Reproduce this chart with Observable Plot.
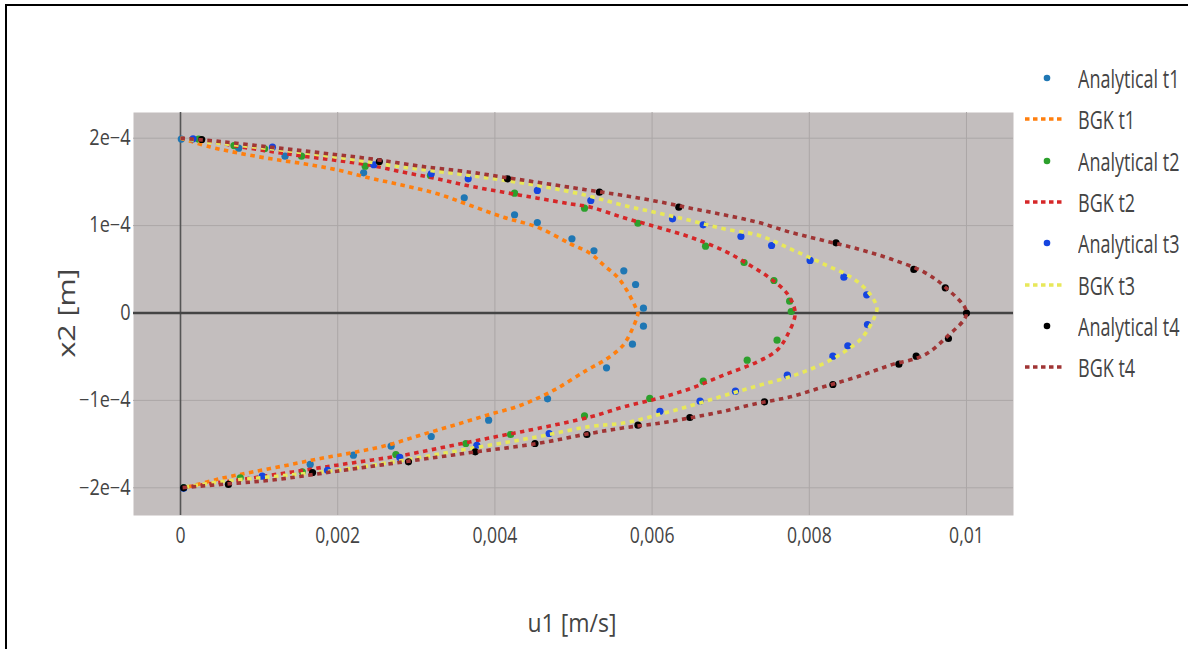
<!DOCTYPE html>
<html><head><meta charset="utf-8">
<script src="https://cdn.jsdelivr.net/npm/d3@7"></script>
<script src="https://cdn.jsdelivr.net/npm/@observablehq/plot@0.6"></script>
<style>
html,body{margin:0;padding:0;background:#fff;}
body{width:1188px;height:649px;overflow:hidden;position:relative;font-family:"Open Sans",sans-serif;color:#444;}
#chart{position:absolute;left:0;top:0;}
#border{position:absolute;left:5px;top:4px;width:1200px;height:700px;border-left:2.5px solid #000;border-top:2.5px solid #000;pointer-events:none;}
.title{position:absolute;white-space:nowrap;color:#444;}
#legend{position:absolute;left:0;top:0;}
.lrow{position:absolute;left:1020px;height:30px;display:flex;align-items:center;white-space:nowrap;}
.lrow span{display:inline-block;font-size:25px;color:#444;transform:scaleX(0.72);transform-origin:0 50%;margin-left:12px;}
</style></head><body>
<div id="chart"></div>
<div class="title" id="xtitle">u1 [m/s]</div>
<div class="title" id="ytitle">x2 [m]</div>
<div id="legend"></div>
<div id="border"></div>
<script>
// ---- data (u1 in m/s, x2 in m) ----
const seriesNames = ["Analytical t1","BGK t1","Analytical t2","BGK t2","Analytical t3","BGK t3","Analytical t4","BGK t4"];

const aT1_u  = [0.00001,0.00074,0.00133,0.00233,0.00361,0.00425,0.00454,0.00498,0.00526,0.00564,0.00579,0.00589,0.00589,0.00575,0.00542,0.00467,0.00392,0.00319,0.00268,0.00220,0.00165,0.00004];
const aT1_x2 = [1.99e-4,1.886e-4,1.794e-4,1.604e-4,1.318e-4,1.124e-4,1.035e-4,0.849e-4,0.712e-4,0.483e-4,0.326e-4,0.055e-4,-0.151e-4,-0.357e-4,-0.627e-4,-0.982e-4,-1.226e-4,-1.413e-4,-1.524e-4,-1.627e-4,-1.733e-4,-2.0e-4];

const bT1_u  = [0,0.00038,0.00072,0.00115,0.00157,0.00199,0.00242,0.00284,0.00327,0.00369,0.00411,0.00454,0.00496,0.00522,0.00539,0.00556,0.00568,0.00579,0.00582,0.00580,0.00574,0.00563,0.00543,0.00517,0.00475,0.00433,0.00390,0.00348,0.00305,0.00263,0.00220,0.00178,0.00136,0.00093,0.00051,0.00009,0];
const bT1_x2 = [2.0e-4,1.90e-4,1.833e-4,1.764e-4,1.707e-4,1.638e-4,1.542e-4,1.459e-4,1.364e-4,1.230e-4,1.096e-4,0.982e-4,0.792e-4,0.677e-4,0.543e-4,0.410e-4,0.257e-4,0.066e-4,0,-0.07e-4,-0.20e-4,-0.37e-4,-0.521e-4,-0.654e-4,-0.883e-4,-1.055e-4,-1.169e-4,-1.284e-4,-1.398e-4,-1.513e-4,-1.596e-4,-1.665e-4,-1.741e-4,-1.817e-4,-1.894e-4,-1.989e-4,-2.0e-4];

const aT2_u  = [0.00023,0.00068,0.00107,0.00154,0.00235,0.00318,0.00425,0.00514,0.00582,0.00668,0.00717,0.00755,0.00775,0.00777,0.00759,0.00721,0.00665,0.00597,0.00514,0.00420,0.00363,0.00274,0.00155,0.00076,0.00004];
const aT2_x2 = [1.99e-4,1.916e-4,1.879e-4,1.794e-4,1.680e-4,1.573e-4,1.371e-4,1.199e-4,1.027e-4,0.764e-4,0.578e-4,0.372e-4,0.135e-4,0.017e-4,-0.311e-4,-0.540e-4,-0.780e-4,-0.978e-4,-1.176e-4,-1.390e-4,-1.493e-4,-1.619e-4,-1.817e-4,-1.886e-4,-2.0e-4];

const bT2_u  = [0,0.00030,0.00072,0.00115,0.00157,0.00199,0.00242,0.00284,0.00327,0.00369,0.00411,0.00454,0.00496,0.00522,0.00564,0.00607,0.00649,0.00691,0.00725,0.00751,0.00772,0.00782,0.00772,0.00759,0.00734,0.00691,0.00649,0.00607,0.00564,0.00522,0.00454,0.00411,0.00369,0.00327,0.00284,0.00242,0.00199,0.00157,0.00115,0.00072,0.00030,0];
const bT2_x2 = [2.0e-4,1.974e-4,1.908e-4,1.848e-4,1.794e-4,1.745e-4,1.690e-4,1.610e-4,1.535e-4,1.451e-4,1.382e-4,1.314e-4,1.249e-4,1.211e-4,1.090e-4,0.982e-4,0.867e-4,0.715e-4,0.543e-4,0.391e-4,0.220e-4,0,-0.254e-4,-0.426e-4,-0.559e-4,-0.711e-4,-0.864e-4,-0.978e-4,-1.074e-4,-1.188e-4,-1.322e-4,-1.398e-4,-1.474e-4,-1.550e-4,-1.627e-4,-1.684e-4,-1.741e-4,-1.799e-4,-1.856e-4,-1.913e-4,-1.962e-4,-2.0e-4];

const aT3_u  = [0.00016,0.00117,0.00246,0.00319,0.00366,0.00454,0.00522,0.00626,0.00665,0.00713,0.00752,0.00801,0.00844,0.00873,0.00874,0.00849,0.00830,0.00772,0.00706,0.00661,0.00610,0.00469,0.00377,0.00279,0.00187,0.00104,0.00004];
const aT3_x2 = [1.993e-4,1.897e-4,1.696e-4,1.593e-4,1.535e-4,1.402e-4,1.287e-4,1.078e-4,1.009e-4,0.875e-4,0.772e-4,0.601e-4,0.410e-4,0.208e-4,-0.132e-4,-0.375e-4,-0.494e-4,-0.711e-4,-0.895e-4,-1.009e-4,-1.124e-4,-1.379e-4,-1.513e-4,-1.653e-4,-1.799e-4,-1.867e-4,-2.005e-4];

const bT3_u  = [0,0.00030,0.00115,0.00199,0.00284,0.00369,0.00454,0.00517,0.00564,0.00607,0.00649,0.00691,0.00736,0.00778,0.00820,0.00855,0.00876,0.00886,0.00882,0.00867,0.00846,0.00820,0.00778,0.00736,0.00693,0.00651,0.00609,0.00566,0.00520,0.00454,0.00369,0.00284,0.00199,0.00115,0.00051,0];
const bT3_x2 = [2.0e-4,1.962e-4,1.879e-4,1.783e-4,1.668e-4,1.573e-4,1.459e-4,1.344e-4,1.230e-4,1.146e-4,1.058e-4,0.963e-4,0.887e-4,0.725e-4,0.553e-4,0.400e-4,0.230e-4,0.060e-4,-0.065e-4,-0.285e-4,-0.436e-4,-0.570e-4,-0.722e-4,-0.828e-4,-0.941e-4,-1.056e-4,-1.161e-4,-1.256e-4,-1.300e-4,-1.417e-4,-1.550e-4,-1.684e-4,-1.799e-4,-1.874e-4,-1.931e-4,-2.0e-4];

const aT4_u  = [0.00027,0.00253,0.00416,0.00533,0.00634,0.00834,0.00933,0.00973,0.01000,0.00977,0.00936,0.00914,0.00830,0.00743,0.00648,0.00582,0.00517,0.00451,0.00375,0.00290,0.00168,0.00061,0.00004];
const aT4_x2 = [1.985e-4,1.733e-4,1.535e-4,1.382e-4,1.211e-4,0.803e-4,0.498e-4,0.288e-4,0,-0.292e-4,-0.494e-4,-0.586e-4,-0.818e-4,-1.016e-4,-1.196e-4,-1.284e-4,-1.390e-4,-1.493e-4,-1.588e-4,-1.703e-4,-1.825e-4,-1.962e-4,-2.0e-4];

const bT4_u  = [0,0.00051,0.00115,0.00178,0.00242,0.00305,0.00369,0.00411,0.00475,0.00522,0.00564,0.00607,0.00649,0.00691,0.00734,0.00776,0.00818,0.00861,0.00903,0.00946,0.00973,0.01000,0.00975,0.00946,0.00903,0.00861,0.00818,0.00776,0.00734,0.00691,0.00649,0.00607,0.00564,0.00520,0.00454,0.00369,0.00284,0.00199,0.00115,0.00051,0];
const bT4_x2 = [2.0e-4,1.962e-4,1.897e-4,1.833e-4,1.764e-4,1.680e-4,1.611e-4,1.554e-4,1.467e-4,1.402e-4,1.344e-4,1.276e-4,1.199e-4,1.124e-4,1.039e-4,0.924e-4,0.830e-4,0.735e-4,0.620e-4,0.467e-4,0.295e-4,0,-0.272e-4,-0.483e-4,-0.597e-4,-0.730e-4,-0.845e-4,-0.959e-4,-1.035e-4,-1.124e-4,-1.199e-4,-1.264e-4,-1.314e-4,-1.380e-4,-1.493e-4,-1.597e-4,-1.703e-4,-1.810e-4,-1.913e-4,-1.962e-4,-2.0e-4];

const xTicks = [0,0.002,0.004,0.006,0.008,0.01];
const xTickLabels = ["0","0,002","0,004","0,006","0,008","0,01"];
const yTicks = [-2e-4,-1e-4,0,1e-4,2e-4];
const yTickLabels = ["\u22122e\u22124","\u22121e\u22124","0","1e\u22124","2e\u22124"];

const xTitle = "u1 [m/s]";
const yTitle = "x2 [m]";

// ---- styles ----
const colors = ["#1f77b4","#ff7f0e","#2ca02c","#d62728","#1545e0","#e8e85a","#000000","#a03535"];
const kinds = ["dot","line","dot","line","dot","line","dot","line"];
const xDomain = [-0.000598, 0.010598];
const yDomain = [-2.317e-4, 2.294e-4];

const uArrays = [aT1_u,bT1_u,aT2_u,bT2_u,aT3_u,bT3_u,aT4_u,bT4_u];
const xArrays = [aT1_x2,bT1_x2,aT2_x2,bT2_x2,aT3_x2,bT3_x2,aT4_x2,bT4_x2];
const tables = uArrays.map((us, k) => us.map((u, i) => ({u, x2: xArrays[k][i]})));

const marks = [
  Plot.frame({fill: "#c3bebe", stroke: null}),
  Plot.ruleX(xTicks, {stroke: "#aca7a7", strokeWidth: 1}),
  Plot.ruleY(yTicks, {stroke: "#aca7a7", strokeWidth: 1}),
  Plot.ruleX([0], {stroke: "#555", strokeWidth: 1.6}),
  Plot.ruleY([0], {stroke: "#444", strokeWidth: 2.4})
];
tables.forEach((t, k) => {
  if (kinds[k] === "dot") {
    marks.push(Plot.dot(t, {x: "u", y: "x2", r: 3.6, fill: colors[k], stroke: null}));
  } else {
    marks.push(Plot.line(t, {x: "u", y: "x2", stroke: colors[k], strokeWidth: 3.6, strokeDasharray: "4.5,4.5", strokeLinecap: "butt", curve: "catmull-rom"}));
  }
});

const chart = Plot.plot({
  width: 1188, height: 649,
  marginLeft: 133, marginRight: 175, marginTop: 112, marginBottom: 134,
  style: {background: "transparent", fontFamily: "'Open Sans', sans-serif", fontSize: "20px", color: "#444", overflow: "visible"},
  x: {domain: xDomain, ticks: xTicks, tickFormat: d => xTickLabels[xTicks.indexOf(d)] ?? "", tickSize: 0, tickPadding: 12, label: null},
  y: {domain: yDomain, ticks: yTicks, tickFormat: d => yTickLabels[yTicks.indexOf(d)] ?? "", tickSize: 0, tickPadding: 3, label: null},
  marks
});
document.getElementById("chart").appendChild(chart);

function squeeze(t, f) {
  const L = t.getComputedTextLength();
  if (L > 0) { t.setAttribute("textLength", L * f); t.setAttribute("lengthAdjust", "spacingAndGlyphs"); }
}
chart.querySelectorAll('[aria-label="x-axis"] text, [aria-label="x-axis tick label"] text').forEach(t => {
  t.setAttribute("font-size", "22"); t.style.fontSize = "22px"; t.setAttribute("fill", "#444"); t.style.fill = "#444";
  squeeze(t, 0.8);
});
chart.querySelectorAll('[aria-label="y-axis"] text, [aria-label="y-axis tick label"] text').forEach(t => {
  t.setAttribute("font-size", "21"); t.style.fontSize = "21px"; t.setAttribute("fill", "#444"); t.style.fill = "#444";
  squeeze(t, 0.86);
});

// axis titles
const xt = document.getElementById("xtitle");
xt.textContent = xTitle;
xt.style.fontSize = "23px";
xt.style.left = "0px"; xt.style.top = "0px";
{
  const r = xt.getBoundingClientRect();
  xt.style.left = (572 - r.width / 2) + "px";
  xt.style.top = (622 - r.height / 2) + "px";
  xt.style.transform = "scaleY(1.1)";
}
const yt = document.getElementById("ytitle");
yt.textContent = yTitle;
yt.style.fontSize = "23px";
{
  const r = yt.getBoundingClientRect();
  yt.style.left = (66 - r.width / 2) + "px";
  yt.style.top = (313 - r.height / 2) + "px";
  yt.style.transform = "rotate(-90deg) scaleX(1.32)";
  yt.style.transformOrigin = "50% 50%";
}

// legend
const legend = document.getElementById("legend");
seriesNames.forEach((name, k) => {
  const row = document.createElement("div");
  row.className = "lrow";
  row.style.top = (78 + k * 41.3 - 15) + "px";
  const svgNS = "http://www.w3.org/2000/svg";
  const s = document.createElementNS(svgNS, "svg");
  s.setAttribute("width", "46"); s.setAttribute("height", "30");
  if (kinds[k] === "dot") {
    const c = document.createElementNS(svgNS, "circle");
    c.setAttribute("cx", "27"); c.setAttribute("cy", "15"); c.setAttribute("r", "3.3");
    c.setAttribute("fill", colors[k]);
    s.appendChild(c);
  } else {
    const l = document.createElementNS(svgNS, "line");
    l.setAttribute("x1", "5"); l.setAttribute("x2", "45"); l.setAttribute("y1", "15"); l.setAttribute("y2", "15");
    l.setAttribute("stroke", colors[k]); l.setAttribute("stroke-width", "3.5"); l.setAttribute("stroke-dasharray", "4.5,3.5");
    s.appendChild(l);
  }
  row.appendChild(s);
  const sp = document.createElement("span");
  sp.textContent = name;
  row.appendChild(sp);
  legend.appendChild(row);
});
</script>
</body></html>
